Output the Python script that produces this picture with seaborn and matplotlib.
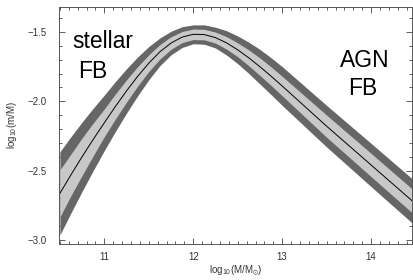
import numpy as np
import pandas as pd
import matplotlib
matplotlib.use("Agg")
import matplotlib.pyplot as plt
import seaborn as sns
from matplotlib.ticker import MultipleLocator

# halo mass grid, log10(M/Msun)
log_halo_mass = [10.5, 10.625, 10.75, 10.875, 11.0, 11.125, 11.25, 11.375,
                 11.5, 11.625, 11.75, 11.875, 12.0, 12.125, 12.25, 12.375,
                 12.5, 12.625, 12.75, 12.875, 13.0, 13.25, 13.5, 13.75,
                 14.0, 14.25, 14.5]
# median log10(m/M)
log_ratio = [-2.665, -2.53, -2.40, -2.275, -2.155, -2.037, -1.925, -1.82,
             -1.725, -1.643, -1.58, -1.537, -1.517, -1.519, -1.541, -1.579,
             -1.629, -1.687, -1.751, -1.819, -1.89, -2.035, -2.18, -2.32,
             -2.46, -2.60, -2.74]
# half widths of the inner (light) and outer (dark) bands
inner_hw = [0.17, 0.15, 0.135, 0.118, 0.10, 0.09, 0.08, 0.07,
            0.06, 0.052, 0.045, 0.04, 0.038, 0.038, 0.04, 0.045,
            0.05, 0.057, 0.063, 0.067, 0.07, 0.075, 0.08, 0.082,
            0.084, 0.085, 0.086]
outer_hw = [0.30, 0.275, 0.25, 0.225, 0.20, 0.18, 0.16, 0.14,
            0.12, 0.10, 0.085, 0.075, 0.068, 0.07, 0.075, 0.088,
            0.10, 0.113, 0.125, 0.133, 0.14, 0.145, 0.15, 0.153,
            0.156, 0.158, 0.16]

df = pd.DataFrame({"logM": log_halo_mass, "ratio": log_ratio,
                   "in_hw": inner_hw, "out_hw": outer_hw})

sns.set_style("ticks")
plt.rcParams["font.family"] = ["Liberation Sans", "DejaVu Sans"]
plt.rcParams["mathtext.default"] = "regular"

fig = plt.figure(figsize=(4.13, 2.80), dpi=100)
ax = fig.add_axes([59 / 413, 1 - 244 / 280, 353 / 413, 237 / 280])

ax.fill_between(df["logM"], df["ratio"] - df["out_hw"], df["ratio"] + df["out_hw"],
                color="#666666", lw=0)
ax.fill_between(df["logM"], df["ratio"] - df["in_hw"], df["ratio"] + df["in_hw"],
                color="#c8c8c8", lw=0)
sns.lineplot(data=df, x="logM", y="ratio", color="black", lw=0.7, ax=ax)

ax.set_xlim(10.49, 14.46)
ax.set_ylim(-3.03, -1.32)
ax.xaxis.set_major_locator(MultipleLocator(1))
ax.xaxis.set_minor_locator(MultipleLocator(0.1))
ax.yaxis.set_major_locator(MultipleLocator(0.5))
ax.yaxis.set_minor_locator(MultipleLocator(0.1))
ax.tick_params(which="both", direction="in", top=True, right=True,
               color="#444444", width=0.6, labelsize=7, labelcolor="#333333")
ax.tick_params(which="major", length=4.5)
ax.tick_params(which="minor", length=2.2)
ax.tick_params(axis="x", pad=6)
ax.tick_params(axis="y", pad=9)
for sp in ax.spines.values():
    sp.set_color("#555555")
    sp.set_linewidth(0.7)

ax.set_xlabel("log$_{10}$(M/M$_{\\odot}$)", fontsize=7, color="#333333", labelpad=1)
ax.set_ylabel("log$_{10}$(m/M)", fontsize=7, color="#333333", labelpad=6)

ax.text(0.123, 0.827, "stellar", transform=ax.transAxes, ha="center",
        va="baseline", fontsize=16.5, color="black")
ax.text(0.096, 0.700, "FB", transform=ax.transAxes, ha="center",
        va="baseline", fontsize=16.5, color="black")
ax.text(0.867, 0.747, "AGN", transform=ax.transAxes, ha="center",
        va="baseline", fontsize=16.5, color="black")
ax.text(0.860, 0.629, "FB", transform=ax.transAxes, ha="center",
        va="baseline", fontsize=16.5, color="black")

fig.savefig("out.png", dpi=100)
